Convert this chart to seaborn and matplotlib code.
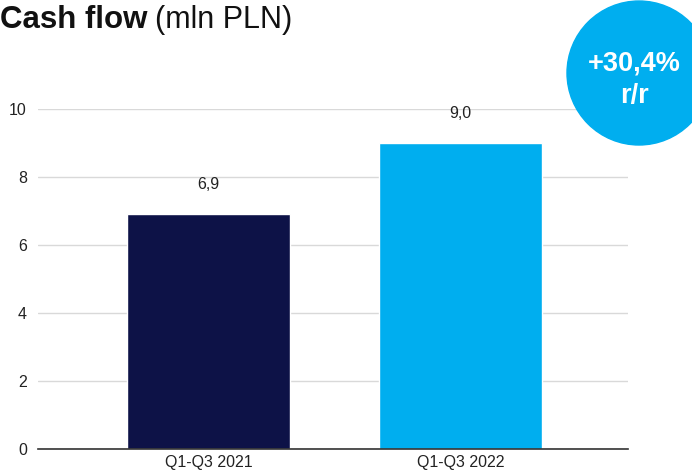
import matplotlib
matplotlib.use("Agg")
import matplotlib.pyplot as plt
import seaborn as sns
import pandas as pd
from matplotlib.patches import Circle

# Data
periods = ["Q1-Q3 2021", "Q1-Q3 2022"]
cash_flow = [6.9, 9.0]
bar_colors = ["#0d1247", "#00aeef"]
yoy_label = "+30,4%\nr/r"

df = pd.DataFrame({"period": periods, "value": cash_flow})

sns.set_style("white")
plt.rcParams["font.family"] = ["Liberation Sans", "DejaVu Sans"]

fig = plt.figure(figsize=(6.92, 4.72), dpi=100)
ax = fig.add_axes([38 / 692, 1 - 449 / 472, 590 / 692, 340 / 472])

sns.barplot(data=df, x="period", y="value", hue="period", palette=bar_colors,
            width=0.647, legend=False, ax=ax, saturation=1)

ax.set_xlim(-0.677, 1.665)
ax.set_ylim(0, 10)
ax.set_yticks([0, 2, 4, 6, 8, 10])
ax.yaxis.grid(True, color="#d9d9d9", linewidth=1)
ax.set_axisbelow(True)
for s in ["top", "right", "left"]:
    ax.spines[s].set_visible(False)
ax.spines["bottom"].set_color("#333333")
ax.spines["bottom"].set_linewidth(1.2)
ax.tick_params(axis="both", length=0, labelsize=11.5, colors="#222222")
ax.tick_params(axis="y", pad=8)
ax.tick_params(axis="x", pad=4)
ax.set_xlabel("")
ax.set_ylabel("")

for i, v in enumerate(cash_flow):
    ax.annotate(f"{v:.1f}".replace(".", ","), (i, v), xytext=(0, 16),
                textcoords="offset points", ha="center", va="bottom",
                fontsize=11.5, color="#222222")

# Title
fig.text(0, 1 - 20 / 472, "Cash flow", fontsize=22.5, fontweight="bold",
         va="center", ha="left", color="#111111")
fig.text(155 / 692, 1 - 20 / 472, "(mln PLN)", fontsize=22,
         va="center", ha="left", color="#111111")

# Badge circle
overlay = fig.add_axes([0, 0, 1, 1], zorder=5)
overlay.set_xlim(0, 692)
overlay.set_ylim(472, 0)
overlay.axis("off")
overlay.add_patch(Circle((639, 73), 72, color="#00aeef"))
overlay.text(634, 80, yoy_label, ha="center", va="center", fontsize=19.5,
             fontweight="bold", color="white", linespacing=1.35)

fig.savefig("out.png", dpi=100)
